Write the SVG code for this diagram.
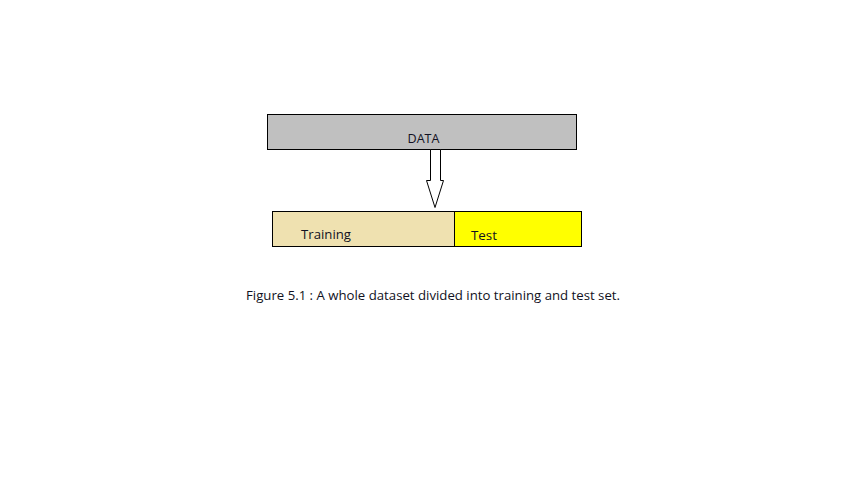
<svg xmlns="http://www.w3.org/2000/svg" width="846" height="487" viewBox="0 0 846 487">
<style>
.box{stroke:#000;stroke-width:1}
.t{font-family:"Open Sans","Liberation Sans",sans-serif;font-size:12px;fill:#111122}
.c{font-size:13px}
</style>
<rect width="846" height="487" fill="#fff"/>
<g id="data">
<rect class="box" x="267.5" y="114.5" width="309" height="35" fill="#c0c0c0"/>
<text class="t" x="423.5" y="142.5" text-anchor="middle" textLength="32" lengthAdjust="spacingAndGlyphs">DATA</text>
</g>
<g id="connectors">
<path d="M430.5,149.5 L440.5,149.5 L440.5,180.5 L443.5,180.5 L435,207.5 L426.5,180.5 L430.5,180.5 Z" fill="#fff" stroke="#000" stroke-width="1"/>
</g>
<g id="training">
<rect class="box" x="272.5" y="211.5" width="182" height="35" fill="#efe1b0"/>
<text class="t" x="301" y="239" textLength="50" lengthAdjust="spacingAndGlyphs">Training</text>
</g>
<g id="test">
<rect class="box" x="454.5" y="211.5" width="127" height="35" fill="#ffff00"/>
<text class="t" x="471" y="240" textLength="26" lengthAdjust="spacingAndGlyphs">Test</text>
</g>
<g id="caption">
<text class="t c" x="246" y="300" textLength="374" lengthAdjust="spacingAndGlyphs">Figure 5.1 : A whole dataset divided into training and test set.</text>
</g>
</svg>
